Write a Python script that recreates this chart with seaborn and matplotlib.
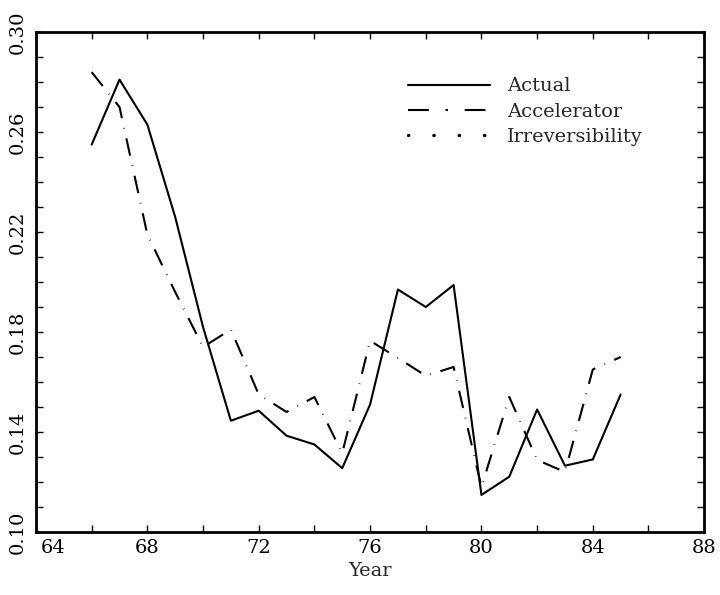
import matplotlib
matplotlib.use("Agg")
import matplotlib.pyplot as plt
import matplotlib.transforms as mtransforms
from matplotlib.lines import Line2D
import seaborn as sns
import pandas as pd
import numpy as np

# ---- data ----
years = [66, 67, 68, 69, 70, 71, 72, 73, 74, 75, 76, 77, 78, 79, 80, 81, 82, 83, 84, 85]
actual = [0.255, 0.281, 0.263, 0.226, 0.182, 0.1445, 0.1485, 0.1385, 0.135, 0.1255,
          0.151, 0.197, 0.190, 0.1988, 0.1148, 0.1221, 0.1490, 0.1265, 0.129, 0.155]
accelerator = [0.284, 0.270, 0.219, 0.196, 0.174, 0.181, 0.155, 0.148, 0.154, 0.1315,
               0.1765, 0.1696, 0.1625, 0.166, 0.118, 0.154, 0.1288, 0.124, 0.165, 0.170]
series_names = ["Actual", "Accelerator", "Irreversibility"]
x_ticks = [64, 68, 72, 76, 80, 84, 88]
y_ticks = [0.10, 0.14, 0.18, 0.22, 0.26, 0.30]

sns.set_style("ticks")
plt.rcParams['font.family'] = ['DejaVu Serif']

df = pd.DataFrame({"Year": years, "Actual": actual, "Accelerator": accelerator})

fig = plt.figure(figsize=(7.2, 5.95), dpi=100)
ax = fig.add_axes([0.05, 0.106, 0.928, 0.84])

lw = 1.5
sns.lineplot(data=df, x="Year", y="Actual", ax=ax, color="black", linewidth=lw,
             linestyle="-")
sns.lineplot(data=df, x="Year", y="Accelerator", ax=ax, color="black", linewidth=lw,
             linestyle=(0, (8.5, 4.8, 0.3, 4.8)), dash_capstyle="butt")

ax.set_xlim(64, 88)
ax.set_ylim(0.10, 0.30)
ax.set_xticks(x_ticks)
ax.set_xticks(np.arange(64, 89, 2), minor=True)
ax.set_yticks(y_ticks)
ax.set_yticks(np.arange(0.10, 0.3001, 0.01), minor=True)
ax.set_xticklabels([str(t) for t in x_ticks], fontsize=14)
ax.set_yticklabels([f"{t:.2f}" for t in y_ticks], fontsize=14, rotation=90, va="center")

ax.tick_params(which="both", direction="in", top=True, right=True, width=1.0, colors="black")
ax.tick_params(which="major", length=5)
ax.tick_params(which="minor", length=5)
ax.tick_params(axis="x", which="major", pad=5)
ax.tick_params(axis="y", which="major", pad=7)

# shift "64" right as in the reference
lbl = ax.get_xticklabels()[0]
lbl.set_transform(lbl.get_transform() + mtransforms.ScaledTranslation(12 / 72, 0, fig.dpi_scale_trans))

for s in ax.spines.values():
    s.set_linewidth(2.0)
    s.set_color("black")

ax.set_xlabel("Year", fontsize=14, labelpad=4)
ax.set_ylabel("")

handles = [
    Line2D([], [], color="black", linewidth=lw, linestyle="-"),
    Line2D([], [], color="black", linewidth=lw, linestyle=(0, (10, 8, 1.2, 8))),
    Line2D([], [], color="black", linewidth=2.4, linestyle=(0, (0.1, 7.5)), dash_capstyle="round"),
]
ax.legend(handles, series_names, loc="upper left", bbox_to_anchor=(0.545, 0.925),
          frameon=False, fontsize=14, handlelength=4.2, handletextpad=0.9,
          labelspacing=0.38, borderaxespad=0)

fig.savefig("out.png", dpi=100)
